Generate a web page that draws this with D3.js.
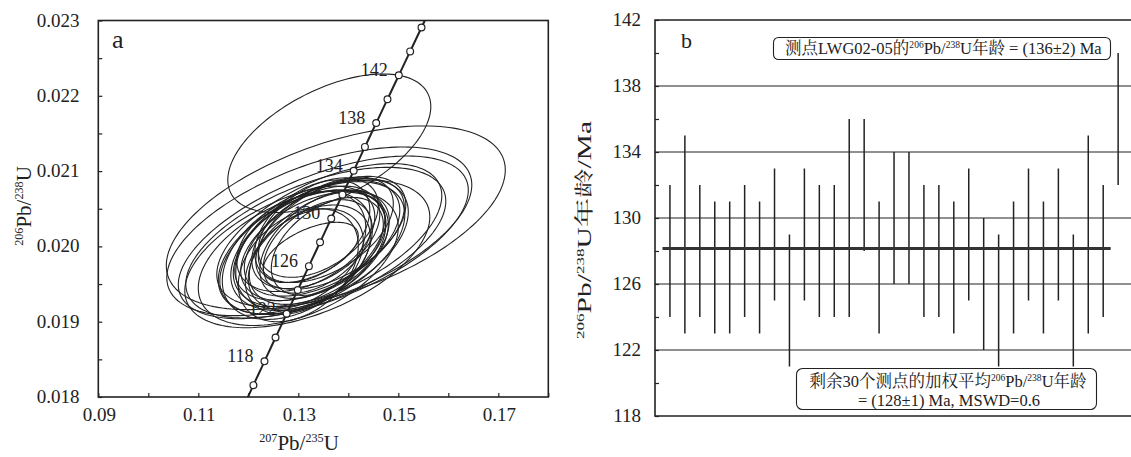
<!DOCTYPE html>
<html><head><meta charset="utf-8">
<script src="https://cdn.jsdelivr.net/npm/d3@7"></script>
<style>
html,body{margin:0;padding:0;background:#fff;}
svg{display:block;}
text{font-family:"Liberation Serif","Noto Serif CJK SC","Noto Sans CJK SC",serif;fill:#222;}
</style></head>
<body>
<svg id="chart" width="1131" height="457"></svg>
<script>
// ---------- Panel a data ----------
const xTicksA = [0.09, 0.11, 0.13, 0.15, 0.17];
const yTicksA = [0.018, 0.019, 0.020, 0.021, 0.022, 0.023];
const concordiaMarkerAges = [116,118,120,122,124,126,128,130,132,134,136,138,140,142,144,146];
const concordiaLabelAges = [118,122,126,130,134,138,142];
// ellipse centres (207Pb/235U, 206Pb/238U), half extents and error correlation
const ellCx  = [0.1362,0.1375,0.1342,0.1350,0.1335,0.1318,0.1362,0.1300,0.1328,0.1345,0.1310,0.1338,0.1352,0.1320,0.1365,0.1298,0.1330,0.1342,0.1315,0.1355,0.1305,0.1335,0.1348,0.1322,0.1340,0.1312,0.1328,0.1358,0.1325,0.1338,0.1300];
const ellCy  = [0.02137,0.02038,0.02020,0.02012,0.02005,0.01990,0.02015,0.01985,0.01998,0.02005,0.01992,0.02008,0.02012,0.01995,0.02018,0.01988,0.02000,0.01998,0.02010,0.02022,0.01995,0.02012,0.02003,0.01985,0.02025,0.01980,0.02020,0.02000,0.01992,0.02000,0.01975];
const ellHx  = [0.0203,0.0339,0.0305,0.0290,0.0260,0.0245,0.0225,0.0200,0.0185,0.0175,0.0170,0.0165,0.0160,0.0155,0.0150,0.0150,0.0145,0.0140,0.0138,0.0135,0.0130,0.0128,0.0125,0.0122,0.0120,0.0118,0.0115,0.0112,0.0095,0.0108,0.0120];
const ellHy  = [0.00092,0.00122,0.00112,0.00108,0.00100,0.00098,0.00095,0.00090,0.00088,0.00085,0.00082,0.00080,0.00078,0.00080,0.00075,0.00085,0.00072,0.00075,0.00070,0.00070,0.00078,0.00068,0.00072,0.00070,0.00066,0.00070,0.00068,0.00065,0.00040,0.00062,0.00075];
const ellRho = [0.53,0.52,0.55,0.58,0.55,0.50,0.55,0.45,0.50,0.48,0.45,0.50,0.52,0.42,0.50,0.40,0.45,0.48,0.42,0.50,0.38,0.45,0.48,0.40,0.45,0.38,0.42,0.45,0.55,0.45,0.35];

// ---------- Panel b data ----------
const yTicksB = [118,122,126,130,134,138,142];
const gridB = [122,126,130,134,138];
const spotAges = [128,129,128,127,127,128,127,129,125,129,128,128,130,132,127,130,130,128,128,127,129,126,125,127,129,127,129,125,129,128,136];
const spotErrs = [4,6,4,4,4,4,4,4,4,4,4,4,6,4,4,4,4,4,4,4,4,4,4,4,4,4,4,4,6,4,4];
const meanAge = 128.15;
const meanCount = 30;

const svg = d3.select("#chart");
const ink = "#222";

function rich(sel, parts, size){
  let shifted = false;
  const d = size*0.38;
  parts.forEach(p=>{
    const ts = sel.append("tspan").text(p.t);
    if(p.sup){
      ts.attr("font-size", size*0.58).attr("dy", shifted ? 0 : -d);
      shifted = true;
    } else {
      ts.attr("font-size", size);
      if(shifted){ ts.attr("dy", d); shifted = false; }
    }
  });
}

// ================= PANEL A =================
const xA = d3.scaleLinear().domain([0.09,0.18]).range([98.3,548.3]);
const yA = d3.scaleLinear().domain([0.018,0.023]).range([397,20.5]);
const gA = svg.append("g");
gA.append("clipPath").attr("id","clipA").append("rect")
  .attr("x",xA(0.09)).attr("y",yA(0.023)).attr("width",xA(0.18)-xA(0.09)).attr("height",yA(0.018)-yA(0.023));

// axes (inward ticks)
const axB = d3.axisBottom(xA).tickValues(d3.range(0.09,0.1801,0.01)).tickSize(-4).tickFormat("");
gA.append("g").attr("transform",`translate(0,${yA(0.018)})`).call(axB)
  .call(g=>{g.select(".domain").remove(); g.selectAll("line").attr("stroke",ink).attr("stroke-width",1.2);});
const axL = d3.axisLeft(yA).tickValues(d3.range(0.018,0.02301,0.0005)).tickSize(-4).tickFormat("");
gA.append("g").attr("transform",`translate(${xA(0.09)},0)`).call(axL)
  .call(g=>{g.select(".domain").remove(); g.selectAll("line").attr("stroke",ink).attr("stroke-width",1.2);});

gA.selectAll("text.xl").data(xTicksA).join("text").attr("class","xl")
  .attr("x",d=>xA(d)+1).attr("y",420.5).attr("text-anchor","middle").attr("font-size",19)
  .text(d=>d.toFixed(2));
gA.selectAll("text.yl").data(yTicksA).join("text").attr("class","yl")
  .attr("x",79.5).attr("y",d=>yA(d)+6).attr("text-anchor","end").attr("font-size",19)
  .text(d=>d.toFixed(3));

const xt = gA.append("text").attr("x",299).attr("y",450).attr("text-anchor","middle");
rich(xt,[{t:"207",sup:true},{t:"Pb/"},{t:"235",sup:true},{t:"U"}],21);
const yt = gA.append("text").attr("transform","translate(31,206) rotate(-90)").attr("text-anchor","middle");
rich(yt,[{t:"206",sup:true},{t:"Pb/"},{t:"238",sup:true},{t:"U"}],21);

gA.append("text").attr("x",112).attr("y",47.5).attr("font-size",26).text("a");

// concordia
const L238 = 1.55125e-4, L235 = 9.8485e-4; // per Ma
const c207 = t => Math.exp(L235*t)-1;
const c206 = t => Math.exp(L238*t)-1;
const plotA = gA.append("g").attr("clip-path","url(#clipA)");

plotA.selectAll("text.cl").data(concordiaLabelAges).join("text").attr("class","cl")
  .attr("x",d=>xA(c207(d))-11).attr("y",d=>yA(c206(d))+1).attr("text-anchor","end").attr("font-size",18)
  .text(d=>d);

// ellipses
const ellData = ellCx.map((cx,i)=>({cx, cy:ellCy[i], hx:ellHx[i], hy:ellHy[i], rho:ellRho[i]}));
const angs = d3.range(0, 2*Math.PI+0.001, Math.PI/90);
const eLine = d3.line().x(d=>xA(d[0])).y(d=>yA(d[1])).curve(d3.curveLinearClosed);
plotA.selectAll("path.ell").data(ellData).join("path").attr("class","ell")
  .attr("d",e=>eLine(angs.map(a=>[e.cx+e.hx*Math.cos(a), e.cy+e.hy*(e.rho*Math.cos(a)+Math.sqrt(1-e.rho*e.rho)*Math.sin(a))])))
  .attr("fill","none").attr("stroke",ink).attr("stroke-width",1.1);

const curveAges = d3.range(110,152,0.5);
plotA.append("path")
  .attr("d",d3.line().x(t=>xA(c207(t))).y(t=>yA(c206(t)))(curveAges))
  .attr("fill","none").attr("stroke",ink).attr("stroke-width",2);
plotA.selectAll("circle.cm").data(concordiaMarkerAges).join("circle").attr("class","cm")
  .attr("cx",d=>xA(c207(d))).attr("cy",d=>yA(c206(d))).attr("r",3.4)
  .attr("fill","#fff").attr("stroke",ink).attr("stroke-width",1.2);

gA.append("rect").attr("x",xA(0.09)).attr("y",yA(0.023)).attr("width",xA(0.18)-xA(0.09)).attr("height",yA(0.018)-yA(0.023))
  .attr("fill","none").attr("stroke",ink).attr("stroke-width",1.6);

// ================= PANEL B =================
const xB = d3.scaleLinear().domain([0,32]).range([655,655+32*14.94]);
const yB = d3.scaleLinear().domain([118,142]).range([416,20]);
const gB = svg.append("g");

gB.selectAll("line.grid").data(gridB).join("line").attr("class","grid")
  .attr("x1",xB(0)).attr("x2",1131).attr("y1",d=>yB(d)).attr("y2",d=>yB(d))
  .attr("stroke",ink).attr("stroke-width",1.1);

const axLB = d3.axisLeft(yB).tickValues(d3.range(118,142.01,2)).tickSize(-4).tickFormat("");
gB.append("g").attr("transform",`translate(${xB(0)},0)`).call(axLB)
  .call(g=>{g.select(".domain").remove(); g.selectAll("line").attr("stroke",ink).attr("stroke-width",1.2);});

gB.selectAll("text.yl").data(yTicksB).join("text").attr("class","yl")
  .attr("x",641).attr("y",d=>yB(d)+6).attr("text-anchor","end").attr("font-size",19).text(d=>d);

const ytb = gB.append("text").attr("transform","translate(591,230) rotate(-90) scale(1.55,1)").attr("text-anchor","middle");
rich(ytb,[{t:"206",sup:true},{t:"Pb/"},{t:"238",sup:true},{t:"U年龄/Ma"}],19);

// error bars
gB.selectAll("line.bar").data(spotAges).join("line").attr("class","bar")
  .attr("x1",(d,i)=>xB(i+1)).attr("x2",(d,i)=>xB(i+1))
  .attr("y1",(d,i)=>yB(d+spotErrs[i])).attr("y2",(d,i)=>yB(d-spotErrs[i]))
  .attr("stroke",ink).attr("stroke-width",1.5);

// weighted mean line
gB.append("line").attr("x1",xB(0.5)).attr("x2",xB(meanCount+0.5))
  .attr("y1",yB(meanAge)).attr("y2",yB(meanAge)).attr("stroke","#333").attr("stroke-width",3);

// frame (left, top, bottom)
gB.append("path").attr("d",`M1131,${yB(142)}H${xB(0)}V${yB(118)}H1131`)
  .attr("fill","none").attr("stroke",ink).attr("stroke-width",1.6);

gB.append("text").attr("x",681).attr("y",48.3).attr("font-size",22).text("b");

// annotation boxes
gB.append("rect").attr("x",773.5).attr("y",37.5).attr("width",337).attr("height",22).attr("rx",5)
  .attr("fill","#fff").attr("stroke",ink).attr("stroke-width",1.1);
const t1 = gB.append("text").attr("x",785).attr("y",54);
rich(t1,[{t:"测点LWG02-05的"},{t:"206",sup:true},{t:"Pb/"},{t:"238",sup:true},{t:"U年龄 = (136±2) Ma"}],16.5);

gB.append("rect").attr("x",796.5).attr("y",368.5).attr("width",300).attr("height",41).attr("rx",6)
  .attr("fill","#fff").attr("stroke",ink).attr("stroke-width",1.1);
const t2 = gB.append("text").attr("x",948).attr("y",387).attr("text-anchor","middle");
rich(t2,[{t:"剩余30个测点的加权平均"},{t:"206",sup:true},{t:"Pb/"},{t:"238",sup:true},{t:"U年龄"}],16.5);
gB.append("text").attr("x",949).attr("y",405.5).attr("text-anchor","middle").attr("font-size",16.5)
  .text("= (128±1) Ma, MSWD=0.6");
</script>
</body></html>
